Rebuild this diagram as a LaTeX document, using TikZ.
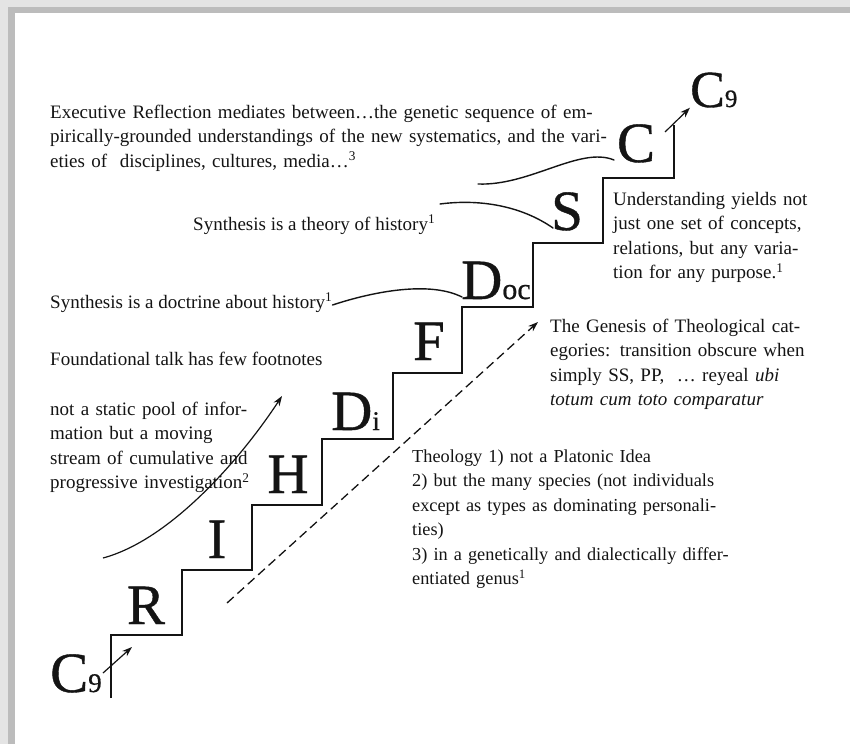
\documentclass[tikz,border=0pt]{standalone}
\usepackage{fontspec}
\setmainfont{Liberation Serif}
\newfontfamily\stepfont{Liberation Serif}[FakeBold=0.7]
\usepackage{tikz}
\usetikzlibrary{arrows.meta, positioning}
\definecolor{frameGray}{RGB}{228,228,228}
\definecolor{shadowGray}{RGB}{188,188,188}
\definecolor{inkBlack}{RGB}{20,20,20}
% one justified line of fixed width
\newcommand{\jline}[2]{\makebox[#1][s]{#2}}

\tikzset{
  stepletter/.style={inner sep=0pt, text=inkBlack, font=\stepfont\fontsize{57}{57}\selectfont},
  note/.style={inner sep=0pt, anchor=base west, align=left, text=inkBlack,
               font=\fontsize{19}{24.5}\selectfont},
  stair/.style={draw=inkBlack, line width=1.4pt},
  swash/.style={draw=inkBlack, line width=1.4pt, line cap=round},
  upArrow/.style={draw=inkBlack, line width=1.2pt, -{Stealth[length=10pt,width=7pt]}},
}

\begin{document}
\begin{tikzpicture}[x=1pt, y=-1pt]
  \useasboundingbox (0,0) rectangle (850,744);
  % scanned page frame
  \fill[frameGray] (0,0) rectangle (850,744);
  \fill[shadowGray] (8,7) rectangle (850,744);
  \fill[white] (15,13) rectangle (850,744);

  % the staircase
  \draw[stair] (111,698) -- (111,635) -- (182,635) -- (182,570) -- (252,570)
    -- (252,505) -- (322,505) -- (322,439) -- (393,439) -- (393,373)
    -- (462,373) -- (462,307) -- (533,307) -- (533,243) -- (603,243)
    -- (603,178) -- (674,178) -- (674,125);

  % letters on the steps
  \node[stepletter, anchor=base west] (C9low) at (50,692)
    {C{\fontsize{27}{27}\selectfont 9}};
  \node[stepletter, anchor=base] (R) at (146,624) {R};
  \node[stepletter, anchor=base] (I) at (217,558) {I};
  \node[stepletter, anchor=base] (H) at (288,493) {H};
  \node[stepletter, anchor=base west] (Di) at (331,430)
    {D{\fontsize{27}{27}\selectfont i}};
  \node[stepletter, anchor=base] (F) at (429,360) {F};
  \node[stepletter, anchor=base west] (Doc) at (461,299)
    {D{\fontsize{30}{30}\selectfont oc}};
  \node[stepletter, anchor=base] (S) at (567,230) {S};
  \node[stepletter, anchor=base] (C) at (636,162) {C};
  \node[stepletter, anchor=base west, font=\stepfont\fontsize{52}{52}\selectfont] (C9top) at (690,107)
    {C{\fontsize{25}{25}\selectfont 9}};

  % notes
  \node[note, text width=551pt] (exec) at (50,118)
    {\jline{551pt}{Executive Reflection mediates between\ldots the genetic sequence of em-}\\
     \jline{551pt}{pirically-grounded understandings of the new systematics, and the vari-}\\
     \mbox{eties of\ \ disciplines, cultures, media\ldots\textsuperscript{3}}};
  \node[note] (theory) at (193,230) {Synthesis is a theory of history\textsuperscript{1}};
  \node[note] (doctrine) at (50,308) {Synthesis is a doctrine about history\textsuperscript{1}};
  \node[note] (footnotes) at (50,365) {Foundational talk has few footnotes};
  \node[note, text width=197pt] (stream) at (50,415)
    {\jline{197pt}{not a static pool of infor-}\\ \jline{197pt}{mation but a moving}\\
     \jline{197pt}{stream of cumulative and}\\ \mbox{progressive investigation\textsuperscript{2}}};
  \node[note, text width=195pt] (understanding) at (613,205)
    {\jline{195pt}{Understanding yields not}\\ \jline{195pt}{just one set of concepts,}\\
     \jline{195pt}{relations, but any varia-}\\ \mbox{tion for any purpose.\textsuperscript{1}}};
  \node[note, text width=258pt] (genesis) at (550,332)
    {\jline{258pt}{The Genesis of Theological cat-}\\
     \jline{258pt}{egories: transition obscure when}\\
     \jline{258pt}{simply SS, PP,\ \ \ldots\ reyeal \textit{ubi}}\\
     \mbox{\textit{totum cum toto comparatur}}};
  \node[note, text width=320pt, font=\fontsize{18.3}{24.5}\selectfont] (theology) at (412,462)
    {\mbox{Theology 1) not a Platonic Idea}\\
     \jline{320pt}{2) but the many species (not individuals}\\
     \jline{320pt}{except as types as dominating personali-}\\ ties)\\
     \jline{320pt}{3) in a genetically and dialectically differ-}\\
     \mbox{entiated genus\textsuperscript{1}}};

  % connectors
  \coordinate (execEnd) at (478,184);
  \coordinate (theoryEnd) at (440,204);
  \draw[swash] (execEnd) .. controls (530,186) and (580,146) .. (614,160);
  \draw[swash] (theoryEnd) .. controls (478,199) and (520,205) .. (553,228);
  \draw[swash] ([yshift=3pt]doctrine.base east) .. controls (375,291) and (430,281) .. (462,297);

  \coordinate (streamTail) at (103,558);
  \coordinate (streamTip) at (282,396);
  \draw[upArrow] (streamTail) .. controls (170,540) and (240,460) .. (streamTip);

  \coordinate (dashTail) at (227,603);
  \coordinate (dashTip) at (538,322);
  \draw[upArrow, dash pattern=on 9pt off 5pt, line width=1.3pt] (dashTail) -- (dashTip);

  \coordinate (lowTail) at (103,673);
  \coordinate (lowTip) at (132,647);
  \draw[upArrow] (lowTail) -- (lowTip);
  \coordinate (topTail) at (665,132);
  \draw[upArrow] (topTail) -- (C9top.south west);
\end{tikzpicture}
\end{document}
